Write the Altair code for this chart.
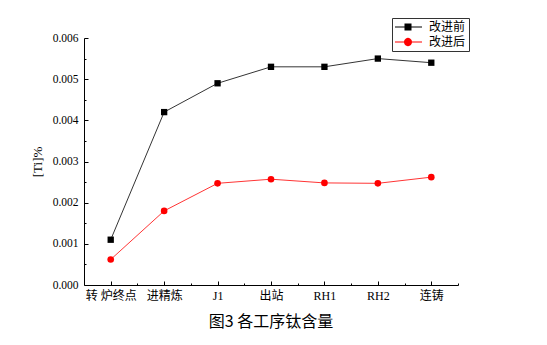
import altair as alt
import pandas as pd

categories = ["转 炉终点", "进精炼", "J1", "出站", "RH1", "RH2", "连铸"]
series_names = ["改进前", "改进后"]
before = [0.0011, 0.0042, 0.0049, 0.0053, 0.0053, 0.0055, 0.0054]
after = [0.00062, 0.0018, 0.00247, 0.00257, 0.00248, 0.00247, 0.00262]
y_major = [0.000, 0.001, 0.002, 0.003, 0.004, 0.005, 0.006]
y_minor = [0.0005, 0.0015, 0.0025, 0.0035, 0.0045, 0.0055]
x_major = list(range(len(categories)))
x_minor = [i + 0.5 for i in range(len(categories))]
colors = ["#000000", "#ff0000"]

rows = []
for i, c in enumerate(categories):
    rows.append({"idx": i, "cat": c, "series": series_names[0], "val": before[i]})
    rows.append({"idx": i, "cat": c, "series": series_names[1], "val": after[i]})
df = pd.DataFrame(rows)

SERIF = "Liberation Serif, Noto Sans CJK SC"
CJK = "Noto Sans CJK SC"
W, H = 374, 247

label_expr = "[" + ",".join("'" + c + "'" for c in categories) + "][datum.value]"

xs = alt.Scale(domain=[-0.5, len(categories) - 0.5], nice=False, zero=False)
ys = alt.Scale(domain=[0, 0.006], nice=False)
cs = alt.Scale(domain=series_names, range=colors)

main_x = alt.Axis(values=x_major, labelExpr=label_expr, ticks=False, domain=True,
                  domainColor="black", domainWidth=1, grid=False, title=None,
                  labelFont=SERIF, labelFontSize=12, labelColor="black",
                  labelPadding=5, labelFlush=False, labelOverlap=False, orient="bottom")
main_y = alt.Axis(values=y_major, format=".3f", ticks=False, domain=True,
                  domainColor="black", domainWidth=1, grid=False, title="[Ti]%",
                  titleFont=SERIF, titleFontSize=13, titleFontWeight="normal",
                  titleColor="black", titlePadding=8,
                  labelFont=SERIF, labelFontSize=11.5, labelColor="black",
                  labelPadding=6, labelFlush=False, labelOverlap=False, orient="left")

def tick_axis_x(vals, size):
    return alt.Axis(values=vals, orient="top", offset=-H, labels=False, domain=False,
                    ticks=True, tickSize=size, tickColor="black", tickWidth=1,
                    grid=False, title=None)

def tick_axis_y(vals, size):
    return alt.Axis(values=vals, orient="right", offset=-W, labels=False, domain=False,
                    ticks=True, tickSize=size, tickColor="black", tickWidth=1,
                    grid=False, title=None)

base = alt.Chart(df)
line1 = base.transform_filter(alt.datum.series == series_names[0]).mark_line(
    strokeWidth=0.8, color=colors[0]).encode(
    x=alt.X("idx:Q", scale=xs, axis=main_x),
    y=alt.Y("val:Q", scale=ys, axis=main_y),
)
line2 = base.transform_filter(alt.datum.series == series_names[1]).mark_line(
    strokeWidth=0.8, color=colors[1]).encode(
    x=alt.X("idx:Q", scale=xs, axis=None),
    y=alt.Y("val:Q", scale=ys, axis=None),
)

squares = base.transform_filter(alt.datum.series == series_names[0]).mark_square(
    size=40, color=colors[0], opacity=1).encode(
    x=alt.X("idx:Q", scale=xs, axis=tick_axis_x(x_major, 4)),
    y=alt.Y("val:Q", scale=ys, axis=tick_axis_y(y_major, 4)),
)

circles = base.transform_filter(alt.datum.series == series_names[1]).mark_circle(
    size=44, color=colors[1], opacity=1).encode(
    x=alt.X("idx:Q", scale=xs, axis=tick_axis_x(x_minor, 2)),
    y=alt.Y("val:Q", scale=ys, axis=tick_axis_y(y_minor, 2)),
)

# legend glyphs (unit = 6 px): thin bar with a marker in the middle
sq_path = ("M-1,-0.083H0.583V0.083H-1Z M1.75,-0.083H3.5V0.083H1.75Z "
           "M0.583,-0.583H1.75V0.583H0.583Z")
ci_path = ("M-1,-0.083H0.5V0.083H-1Z M1.833,-0.083H3.5V0.083H1.833Z "
           "M0.5,0A0.667,0.667 0 1,1 1.833,0A0.667,0.667 0 1,1 0.5,0Z")

leg = alt.Legend(title=None, orient="none", legendX=308, legendY=-20, direction="vertical",
                 symbolSize=144, symbolStrokeWidth=0, symbolOpacity=1,
                 labelFont=SERIF, labelFontSize=12, labelColor="black", labelOffset=22,
                 strokeColor="#333333", fillColor="white", padding=3, rowPadding=3)

legend_layer = base.mark_point(opacity=0.001, filled=True, size=144).encode(
    x=alt.X("idx:Q", scale=xs, axis=None),
    y=alt.Y("val:Q", scale=ys, axis=None),
    shape=alt.Shape("series:N", scale=alt.Scale(domain=series_names, range=[sq_path, ci_path]), legend=leg),
    color=alt.Color("series:N", scale=cs, legend=leg),
)

chart = alt.layer(line1, line2, squares, circles, legend_layer).resolve_axis(
    x="independent", y="independent"
).properties(
    width=W, height=H,
    autosize=alt.AutoSizeParams(type="none"),
    padding={"left": 84, "top": 38, "right": 89, "bottom": 60},
    title=alt.TitleParams("图3 各工序钛含量", orient="bottom", font=CJK, fontSize=16,
                          fontWeight="normal", color="black", offset=13, anchor="middle"),
).configure(background="white").configure_view(stroke=None)

chart.save("out.html", embed_options={"renderer": "svg", "actions": False})
